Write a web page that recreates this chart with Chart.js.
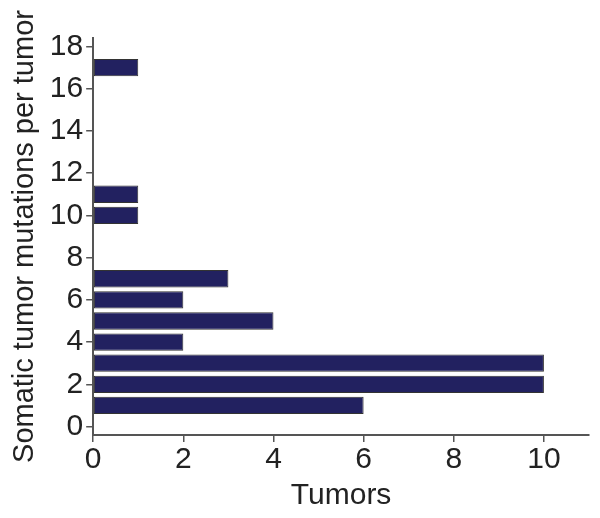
<!DOCTYPE html>
<html>
<head>
<meta charset="utf-8">
<script src="https://cdn.jsdelivr.net/npm/chart.js@4/dist/chart.umd.min.js"></script>
<style>
  html, body { margin: 0; padding: 0; background: #fff; }
  #wrap { width: 600px; height: 518px; }
</style>
</head>
<body>
<div id="wrap"><canvas id="chart" width="600" height="518"></canvas></div>
<script>
const mutations = [1, 2, 3, 4, 5, 6, 7, 10, 11, 17];
const tumors = [6, 10, 10, 2, 4, 2, 3, 1, 1, 1];
const xTicks = [0, 2, 4, 6, 8, 10];
const yTicks = [0, 2, 4, 6, 8, 10, 12, 14, 16, 18];
const xTitle = 'Tumors';
const yTitle = 'Somatic tumor mutations per tumor';

const points = mutations.map((m, i) => ({ x: tumors[i], y: m }));
const font = { family: 'Liberation Sans, Arial, Helvetica, sans-serif' };

new Chart(document.getElementById('chart'), {
  type: 'bar',
  data: {
    datasets: [{
      data: points,
      backgroundColor: '#222160',
      borderColor: '#333',
      borderWidth: 1,
      borderSkipped: false,
      categoryPercentage: 0.82,
      barPercentage: 1
    }]
  },
  options: {
    indexAxis: 'y',
    responsive: false,
    animation: false,
    layout: { padding: { top: 38, right: 11, left: 8, bottom: 4 } },
    plugins: { legend: { display: false }, tooltip: { enabled: false } },
    scales: {
      x: {
        type: 'linear',
        min: 0,
        max: 11,
        offset: false,
        afterBuildTicks: s => { s.ticks = xTicks.map(v => ({ value: v })); },
        border: { color: '#555', width: 2 },
        grid: { display: true, offset: false, drawOnChartArea: false, drawTicks: true, tickLength: 7, color: '#555', lineWidth: 1.5 },
        ticks: { color: '#222', padding: 0, font: { ...font, size: 30 } },
        title: { display: true, text: xTitle, color: '#222', padding: { top: 0, bottom: 0 }, font: { ...font, size: 30 } }
      },
      y: {
        type: 'linear',
        min: -0.4,
        max: 18.4,
        offset: false,
        afterBuildTicks: s => { s.ticks = yTicks.map(v => ({ value: v })); },
        border: { color: '#555', width: 2 },
        grid: { display: true, offset: false, drawOnChartArea: false, drawTicks: true, tickLength: 7, color: '#555', lineWidth: 1.5 },
        ticks: { color: '#222', padding: 3, font: { ...font, size: 30 } },
        title: { display: true, text: yTitle, color: '#222', padding: { top: 0, bottom: 4 }, font: { ...font, size: 29 } }
      }
    }
  }
});
</script>
</body>
</html>
